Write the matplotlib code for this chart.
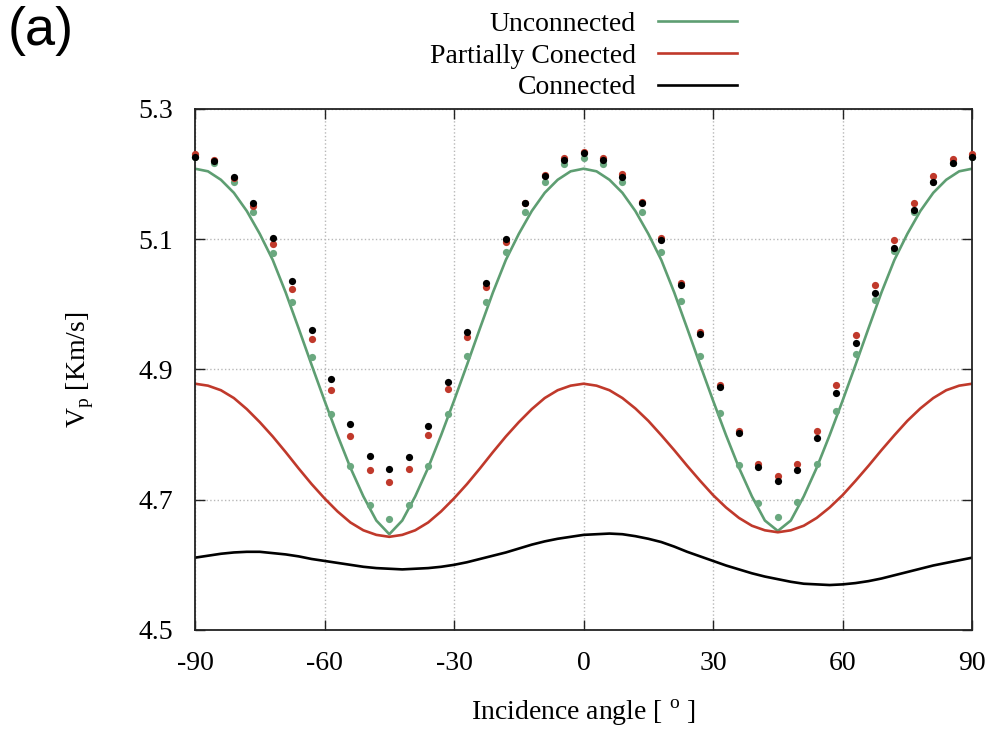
import numpy as np
import matplotlib
matplotlib.use("Agg")
import matplotlib.pyplot as plt

# serif text like the gnuplot original
plt.rcParams['font.family'] = ['Liberation Serif', 'DejaVu Serif']
plt.rcParams['mathtext.fontset'] = 'custom'
plt.rcParams['mathtext.rm'] = 'Liberation Serif'

# Data
# ============================
# sampled points, every 4.5 deg
angle_pts = [-90, -85.5, -81, -76.5, -72, -67.5, -63, -58.5, -54, -49.5, -45,
             -40.5, -36, -31.5, -27, -22.5, -18, -13.5, -9, -4.5, 0,
             4.5, 9, 13.5, 18, 22.5, 27, 31.5, 36, 40.5, 45,
             49.5, 54, 58.5, 63, 67.5, 72, 76.5, 81, 85.5, 90]

unconn_pts = [5.226, 5.216, 5.187, 5.142, 5.079, 5.004, 4.919, 4.831, 4.751, 4.692, 4.671,
              4.692, 4.751, 4.832, 4.920, 5.004, 5.080, 5.142, 5.187, 5.215, 5.224,
              5.215, 5.187, 5.142, 5.080, 5.005, 4.921, 4.833, 4.754, 4.695, 4.673,
              4.696, 4.755, 4.836, 4.923, 5.007, 5.081, 5.142, 5.187, 5.216, 5.226]

partial_pts = [5.231, 5.222, 5.194, 5.151, 5.093, 5.024, 4.946, 4.868, 4.797, 4.745, 4.727,
               4.747, 4.799, 4.870, 4.950, 5.027, 5.096, 5.155, 5.199, 5.225, 5.234,
               5.225, 5.200, 5.157, 5.101, 5.032, 4.957, 4.876, 4.806, 4.755, 4.736,
               4.755, 4.805, 4.876, 4.953, 5.030, 5.099, 5.155, 5.197, 5.223, 5.231]

conn_pts = [5.226, 5.220, 5.196, 5.156, 5.101, 5.035, 4.961, 4.885, 4.816, 4.767, 4.747,
            4.765, 4.813, 4.881, 4.957, 5.032, 5.100, 5.156, 5.197, 5.222, 5.232,
            5.222, 5.196, 5.155, 5.098, 5.030, 4.954, 4.873, 4.802, 4.750, 4.729,
            4.745, 4.794, 4.863, 4.941, 5.017, 5.086, 5.144, 5.188, 5.216, 5.226]

# model curves, every 3 deg
angle_line = [-90, -87, -84, -81, -78, -75, -72, -69, -66, -63, -60, -57, -54, -51, -48, -45,
              -42, -39, -36, -33, -30, -27, -24, -21, -18, -15, -12, -9, -6, -3, 0,
              3, 6, 9, 12, 15, 18, 21, 24, 27, 30, 33, 36, 39, 42, 45,
              48, 51, 54, 57, 60, 63, 66, 69, 72, 75, 78, 81, 84, 87, 90]

unconn_line = [5.208, 5.204, 5.191, 5.171, 5.143, 5.108, 5.068, 5.018, 4.963, 4.907, 4.852,
               4.799, 4.749, 4.705, 4.668, 4.647,
               4.668, 4.705, 4.749, 4.799, 4.852, 4.907, 4.963, 5.018, 5.068, 5.108,
               5.143, 5.171, 5.191, 5.204, 5.208,
               5.204, 5.191, 5.171, 5.143, 5.108, 5.068, 5.018, 4.963, 4.907, 4.852,
               4.799, 4.749, 4.705, 4.668, 4.652,
               4.668, 4.705, 4.749, 4.799, 4.852, 4.907, 4.963, 5.018, 5.068, 5.108,
               5.143, 5.171, 5.191, 5.204, 5.208]

partial_line = [4.878, 4.875, 4.868, 4.856, 4.839, 4.819, 4.797, 4.773, 4.748, 4.724, 4.702,
                4.682, 4.665, 4.653, 4.646, 4.643,
                4.646, 4.653, 4.665, 4.682, 4.702, 4.724, 4.748, 4.773, 4.797, 4.819,
                4.839, 4.856, 4.868, 4.875, 4.878,
                4.875, 4.868, 4.856, 4.840, 4.821, 4.799, 4.776, 4.752, 4.729, 4.707,
                4.688, 4.672, 4.660, 4.653, 4.650,
                4.653, 4.660, 4.672, 4.688, 4.707, 4.729, 4.752, 4.776, 4.799, 4.821,
                4.840, 4.856, 4.868, 4.875, 4.878]

conn_line = [4.611, 4.614, 4.617, 4.619, 4.620, 4.620, 4.618, 4.616, 4.613, 4.609, 4.606,
             4.603, 4.600, 4.597, 4.595, 4.594,
             4.593, 4.594, 4.595, 4.597, 4.600, 4.604, 4.609, 4.614, 4.619, 4.625,
             4.631, 4.636, 4.640, 4.643, 4.646,
             4.647, 4.648, 4.647, 4.644, 4.640, 4.635, 4.628, 4.620, 4.613, 4.606,
             4.599, 4.593, 4.587, 4.582, 4.578,
             4.574, 4.571, 4.570, 4.569, 4.570, 4.572, 4.575, 4.579, 4.584, 4.589,
             4.594, 4.599, 4.603, 4.607, 4.611]

x_ticks = [-90, -60, -30, 0, 30, 60, 90]
y_ticks = [4.5, 4.7, 4.9, 5.1, 5.3]

green = '#5e9e72'
red = '#c0392b'
black = '#000000'

# Plot
# ====
fig = plt.figure(figsize=(9.95, 7.3), dpi=100)
ax = fig.add_axes([0.196, 0.137, 0.781, 0.714])

ax.grid(True, linestyle=':', color='#b8b8b8', linewidth=1.0)
ax.set_axisbelow(True)

ax.plot(angle_line, unconn_line, color=green, lw=1.9, label='Unconnected')
ax.plot(angle_line, partial_line, color=red, lw=1.9, label='Partially Conected')
ax.plot(angle_line, conn_line, color=black, lw=1.9, label='Connected')

ax.plot(angle_pts, unconn_pts, 'o', color='#6aa87f', ms=5.2, mec='none', clip_on=False, zorder=4)
ax.plot(angle_pts, partial_pts, 'o', color=red, ms=5.2, mec='none', clip_on=False, zorder=5)
ax.plot(angle_pts, conn_pts, 'o', color=black, ms=5.2, mec='none', clip_on=False, zorder=6)

ax.set_xlim(-90, 90)
ax.set_ylim(4.5, 5.3)
ax.set_xticks(x_ticks)
ax.set_xticklabels([str(t) for t in x_ticks])
ax.set_yticks(y_ticks)
ax.set_yticklabels(['%.1f' % t for t in y_ticks])
ax.tick_params(direction='in', length=7, width=1.0, top=True, right=True,
               labelsize=20, colors='#222222', labelcolor='black')
ax.tick_params(axis='x', pad=15)
ax.tick_params(axis='y', pad=16)
for s in ax.spines.values():
    s.set_linewidth(1.3)
    s.set_color('#222222')

ax.set_xlabel(r'Incidence angle [ $^{\mathrm{o}}$ ]', fontsize=20, labelpad=16)
ax.set_ylabel(r'V$_{\mathrm{p}}$ [Km/s]', fontsize=20, labelpad=30)

leg = ax.legend(loc='upper right', bbox_to_anchor=(0.741, 0.984), bbox_transform=fig.transFigure,
                frameon=False, markerfirst=False, fontsize=20, handlelength=2.85,
                handletextpad=0.8, labelspacing=0.22, borderpad=0, borderaxespad=0)

fig.text(0.008, 0.992, '(a)', fontsize=39, family='Liberation Sans', va='top', ha='left')

fig.savefig('out.png', dpi=100)
